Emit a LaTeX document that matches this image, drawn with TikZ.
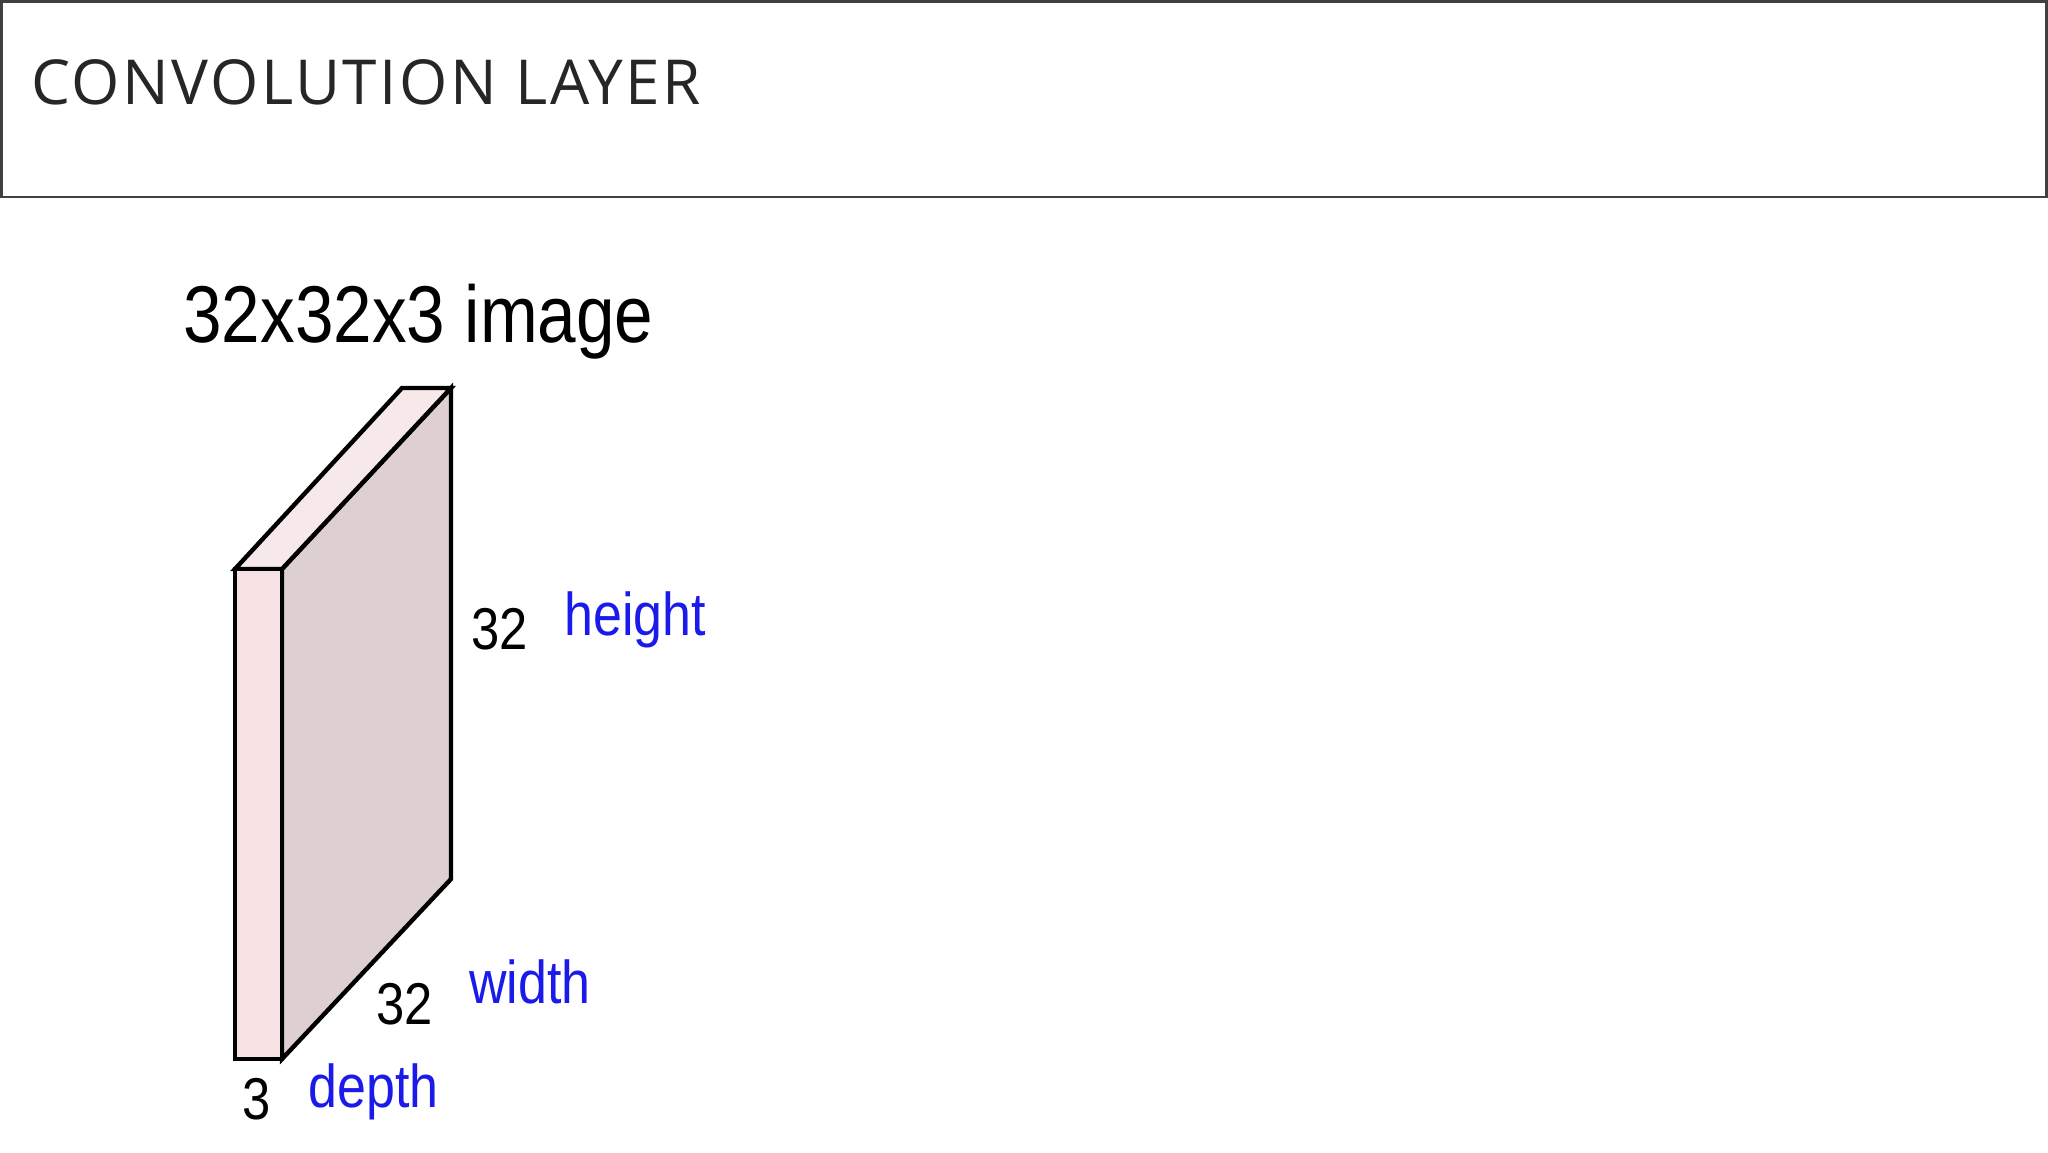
\documentclass[tikz,border=0pt]{standalone}
\usepackage{fontspec}
\setmainfont{Liberation Sans}
\newfontfamily\imgfont[FakeStretch=0.86]{Liberation Sans}
\newfontfamily\titlefont[LetterSpace=4]{Open Sans}
\definecolor{framegray}{RGB}{64,64,64}
\definecolor{titlegray}{RGB}{38,38,38}
\definecolor{frontpink}{RGB}{246,226,227}
\definecolor{toppink}{RGB}{247,233,233}
\definecolor{sidepink}{RGB}{222,208,209}
\definecolor{dimblue}{RGB}{26,26,235}
\tikzset{
  lbl/.style={inner sep=0pt, anchor=base west},
  dimnum/.style={lbl, font=\imgfont\fontsize{29.5pt}{32pt}\selectfont, text=black},
  dimname/.style={lbl, font=\imgfont\fontsize{30.2pt}{33pt}\selectfont, text=dimblue},
  face/.style={draw=black, line width=2.2pt, line join=miter}
}
\begin{document}
\begin{tikzpicture}[x=0.5pt, y=-0.5pt]
\useasboundingbox (0,0) rectangle (2048,1152);
% title frame
\draw[framegray, line width=1.3pt] (1.3,1.3) rectangle (2046.7,197);
\node[lbl, font=\titlefont\fontsize{31pt}{36pt}\selectfont, text=titlegray] (title) at (31,104) {CONVOLUTION LAYER};
% image caption
\node[lbl, font=\imgfont\fontsize{40.3pt}{44pt}\selectfont] (caption) at (183,342) {32x32x3 image};
% volume corners
\coordinate (ftl) at (235,569);
\coordinate (ftr) at (282,569);
\coordinate (fbr) at (282,1059);
\coordinate (fbl) at (235,1059);
\coordinate (btl) at (402,388);
\coordinate (btr) at (451,388);
\coordinate (bbr) at (451,879);
% faces
\filldraw[face, fill=sidepink] (ftr) -- (btr) -- (bbr) -- (fbr) -- cycle;
\filldraw[face, fill=toppink] (ftl) -- (btl) -- (btr) -- (ftr) -- cycle;
\filldraw[face, fill=frontpink] (ftl) -- (ftr) -- (fbr) -- (fbl) -- cycle;
% labels
\node[dimnum] (hnum) at (471,649) {32};
\node[dimname] (hname) at (564,635) {height};
\node[dimnum] (wnum) at (376,1024) {32};
\node[dimname] (wname) at (469,1003) {width};
\node[dimnum] (dnum) at (242,1119) {3};
\node[dimname] (dname) at (308,1107) {depth};
\end{tikzpicture}
\end{document}
